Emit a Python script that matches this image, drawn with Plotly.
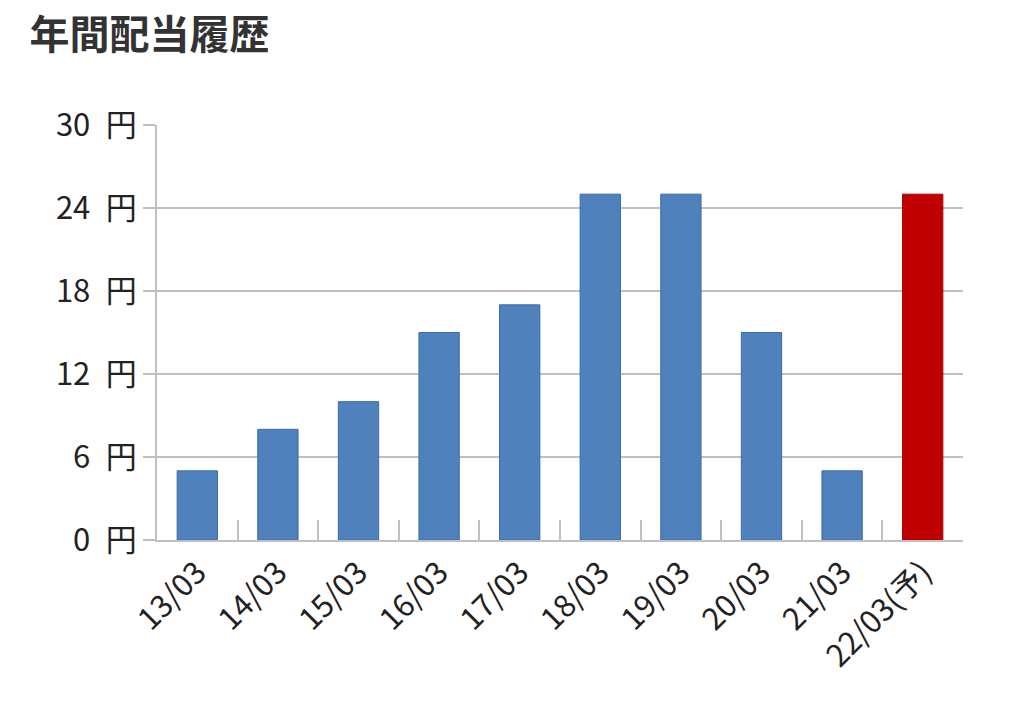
import plotly.graph_objects as go

# 年間配当の推移
periods = ['13/03', '14/03', '15/03', '16/03', '17/03', '18/03', '19/03', '20/03', '21/03', '22/03(予)']
dividends = [5, 8, 10, 15, 17, 25, 25, 15, 5, 25]
is_forecast = [False] * 9 + [True]

bar_colors = ['#C00000' if f else '#4F81BD' for f in is_forecast]
edge_colors = ['#A50000' if f else '#3A6BAA' for f in is_forecast]

font_family = 'Noto Sans CJK JP, Noto Sans, sans-serif'
grid_gray = '#C0C0C0'

fig = go.Figure()

fig.add_trace(go.Bar(
    x=periods,
    y=dividends,
    width=0.5,
    marker=dict(color=bar_colors, line=dict(color=edge_colors, width=1)),
    showlegend=False,
))

# the page body has an 8px margin, so the margins are shifted by 8px
fig.update_layout(
    width=1024,
    height=707,
    margin=dict(l=149, r=69, t=117, b=175),
    plot_bgcolor='white',
    paper_bgcolor='white',
    font=dict(family=font_family, color='#222222'),
    title=dict(
        text='<b>年間配当履歴</b>',
        x=0.021, xanchor='left',
        y=0.962, yanchor='middle',
        font=dict(size=40, color='#333333', family=font_family),
    ),
    xaxis=dict(
        type='category',
        tickangle=-45,
        tickfont=dict(size=31, color='#222222'),
        ticks='inside',
        tickson='boundaries',
        ticklen=20,
        tickwidth=2,
        tickcolor=grid_gray,
        showline=True,
        linecolor=grid_gray,
        linewidth=2,
        showgrid=False,
    ),
    yaxis=dict(
        range=[0, 30],
        dtick=6,
        ticksuffix='\u2002円',
        tickfont=dict(size=31, color='#222222'),
        ticks='outside',
        ticklen=12,
        tickwidth=2,
        tickcolor=grid_gray,
        showline=True,
        linecolor=grid_gray,
        linewidth=2,
        showgrid=True,
        gridcolor=grid_gray,
        gridwidth=2,
        zeroline=False,
    ),
)

fig.write_html('out.html')
